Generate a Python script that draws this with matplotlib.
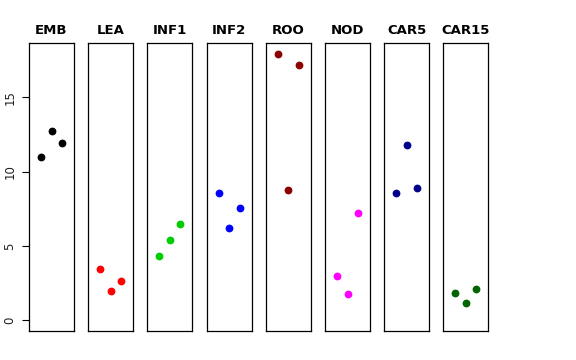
import matplotlib.pyplot as plt

# tissue groups, three replicates each
groups = ['EMB', 'LEA', 'INF1', 'INF2', 'ROO', 'NOD', 'CAR5', 'CAR15']
colors = ['black', 'red', '#00CD00', 'blue', '#8B0000', 'magenta', '#00008B', '#006400']
reps = [1, 2, 3]
emb = [11.0, 12.75, 11.94]
lea = [3.47, 1.99, 2.64]
inf1 = [4.35, 5.38, 6.48]
inf2 = [8.56, 6.23, 7.55]
roo = [17.93, 8.78, 17.17]
nod = [2.98, 1.79, 7.24]
car5 = [8.54, 11.81, 8.94]
car15 = [1.82, 1.16, 2.10]
values = [emb, lea, inf1, inf2, roo, nod, car5, car15]
yticks = [0, 5, 10, 15]

W, H = 576, 360
fig = plt.figure(figsize=(W / 100, H / 100), dpi=100)

ymax = max(max(v) for v in values)
pad = 0.04 * ymax
left0, pitch, pw = 29, 59.2, 45
top, bottom = 43.3, 331

for i, (name, col, vals) in enumerate(zip(groups, colors, values)):
    x0 = left0 + i * pitch
    ax = fig.add_axes([x0 / W, 1 - bottom / H, pw / W, (bottom - top) / H])
    ax.plot(reps, vals, 'o', color=col, markersize=4.6, linestyle='none')
    ax.set_xlim(0 - 0.16, 4 + 0.16)
    ax.set_ylim(0 - pad, ymax + pad)
    ax.set_xticks([])
    for s in ax.spines.values():
        s.set_linewidth(0.9)
        s.set_color('black')
    ax.set_title(name, fontsize=9.5, fontweight='bold', pad=7)
    if i == 0:
        ax.set_yticks(yticks)
        ax.set_yticklabels([str(t) for t in yticks], rotation=90, va='center',
                           fontsize=8.5, color='#222222')
        ax.tick_params(axis='y', length=5, width=0.8, pad=4)
    else:
        ax.set_yticks([])

fig.savefig('out.png', dpi=100)
